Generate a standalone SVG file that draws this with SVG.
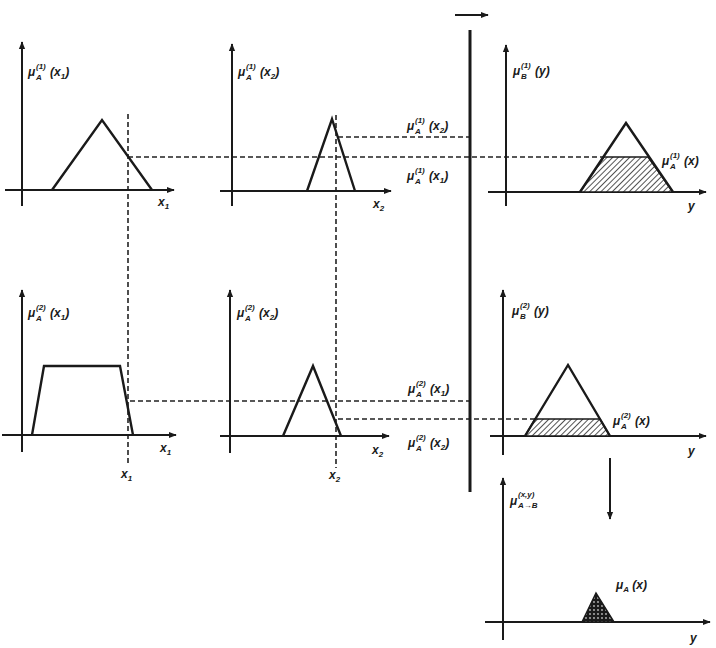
<svg xmlns="http://www.w3.org/2000/svg" width="716" height="648" viewBox="0 0 716 648">
<style>
.ax{stroke:#1a1a1a;stroke-width:2;fill:none}
.mf{stroke:#1a1a1a;stroke-width:2.4;fill:none;stroke-linejoin:miter}
.dash{stroke:#222;stroke-width:1.6;stroke-dasharray:5 3;fill:none}
.lb{font-family:"Liberation Sans",Arial,sans-serif;font-style:italic;font-weight:bold;font-size:12px;fill:#1a1a1a}
.s{font-size:8px}
</style>
<defs>
<marker id="ah" viewBox="0 0 10 10" refX="9" refY="5" markerWidth="8" markerHeight="8" orient="auto" markerUnits="userSpaceOnUse">
<path d="M0,1 L10,5 L0,9 Z" fill="#1a1a1a"/>
</marker>
<pattern id="hatch" width="4" height="4" patternUnits="userSpaceOnUse" patternTransform="rotate(45)">
<rect width="4" height="4" fill="#fff"/>
<line x1="0" y1="0" x2="0" y2="4" stroke="#1a1a1a" stroke-width="1.5"/>
</pattern>
<pattern id="dots" width="4" height="4" patternUnits="userSpaceOnUse">
<rect width="4" height="4" fill="#1a1a1a"/>
<circle cx="2" cy="2" r="0.9" fill="#bbb"/>
</pattern>
</defs>

<g id="connectors">
<line class="dash" x1="128" y1="114" x2="128" y2="466"/>
<line class="dash" x1="336" y1="115" x2="336" y2="468"/>
<line class="dash" x1="128" y1="157" x2="604" y2="157"/>
<line class="dash" x1="338" y1="137" x2="470" y2="137"/>
<line class="dash" x1="130" y1="401" x2="470" y2="401"/>
<line class="dash" x1="338" y1="419" x2="535" y2="419"/>
<line x1="470" y1="30" x2="470" y2="492" stroke="#1a1a1a" stroke-width="3"/>
<line class="ax" x1="455" y1="15" x2="488" y2="15" marker-end="url(#ah)"/>
<line class="ax" x1="610" y1="458" x2="610" y2="519" marker-end="url(#ah)"/>
</g>

<g id="panel-tl">
<line class="ax" x1="22" y1="206" x2="22" y2="42" marker-end="url(#ah)"/>
<line class="ax" x1="5" y1="190" x2="174" y2="190" marker-end="url(#ah)"/>
<polyline class="mf" points="52,190 102,120 152,190"/>
<text class="lb" x="28" y="76">μ<tspan class="s" x="36" y="69">(1)</tspan><tspan class="s" x="36" y="80">A</tspan><tspan x="50" y="76">(x</tspan><tspan class="s" y="79">1</tspan><tspan y="76">)</tspan></text>
<text class="lb" x="158" y="206">x<tspan class="s" y="209">1</tspan></text>
</g>

<g id="panel-tm">
<line class="ax" x1="232" y1="206" x2="232" y2="44" marker-end="url(#ah)"/>
<line class="ax" x1="220" y1="191" x2="391" y2="191" marker-end="url(#ah)"/>
<polyline class="mf" points="307,191 332,119 355,191"/>
<text class="lb" x="238" y="76">μ<tspan class="s" x="246" y="69">(1)</tspan><tspan class="s" x="246" y="80">A</tspan><tspan x="260" y="76">(x</tspan><tspan class="s" y="79">2</tspan><tspan y="76">)</tspan></text>
<text class="lb" x="373" y="208">x<tspan class="s" y="211">2</tspan></text>
<text class="lb" x="407" y="130">μ<tspan class="s" x="415" y="123">(1)</tspan><tspan class="s" x="415" y="134">A</tspan><tspan x="429" y="130">(x</tspan><tspan class="s" y="133">2</tspan><tspan y="130">)</tspan></text>
<text class="lb" x="407" y="180">μ<tspan class="s" x="415" y="173">(1)</tspan><tspan class="s" x="415" y="184">A</tspan><tspan x="429" y="180">(x</tspan><tspan class="s" y="183">1</tspan><tspan y="180">)</tspan></text>
</g>

<g id="panel-tr">
<line class="ax" x1="506" y1="206" x2="506" y2="45" marker-end="url(#ah)"/>
<line class="ax" x1="488" y1="192" x2="706" y2="192" marker-end="url(#ah)"/>
<polygon points="580,192 604,157 648,157 673,192" fill="url(#hatch)" stroke="#1a1a1a" stroke-width="1.5"/>
<polyline class="mf" points="580,192 626,123 673,192"/>
<text class="lb" x="513" y="75">μ<tspan class="s" x="521" y="68">(1)</tspan><tspan class="s" x="521" y="79">B</tspan><tspan x="535" y="75">(y)</tspan></text>
<text class="lb" x="662" y="165">μ<tspan class="s" x="670" y="158">(1)</tspan><tspan class="s" x="670" y="169">A</tspan><tspan x="684" y="165">(x)</tspan></text>
<text class="lb" x="688" y="210">y</text>
</g>

<g id="panel-bl">
<line class="ax" x1="22" y1="452" x2="22" y2="290" marker-end="url(#ah)"/>
<line class="ax" x1="2" y1="435" x2="176" y2="435" marker-end="url(#ah)"/>
<polyline class="mf" points="32,435 44,366 120,366 133,435"/>
<text class="lb" x="28" y="317">μ<tspan class="s" x="36" y="310">(2)</tspan><tspan class="s" x="36" y="321">A</tspan><tspan x="50" y="317">(x</tspan><tspan class="s" y="320">1</tspan><tspan y="317">)</tspan></text>
<text class="lb" x="160" y="452">x<tspan class="s" y="455">1</tspan></text>
<text class="lb" x="121" y="478">x<tspan class="s" y="481">1</tspan></text>
</g>

<g id="panel-bm">
<line class="ax" x1="230" y1="453" x2="230" y2="290" marker-end="url(#ah)"/>
<line class="ax" x1="220" y1="436" x2="389" y2="436" marker-end="url(#ah)"/>
<polyline class="mf" points="283,436 313,366 341,436"/>
<text class="lb" x="237" y="317">μ<tspan class="s" x="245" y="310">(2)</tspan><tspan class="s" x="245" y="321">A</tspan><tspan x="259" y="317">(x</tspan><tspan class="s" y="320">2</tspan><tspan y="317">)</tspan></text>
<text class="lb" x="372" y="454">x<tspan class="s" y="457">2</tspan></text>
<text class="lb" x="329" y="479">x<tspan class="s" y="482">2</tspan></text>
<text class="lb" x="408" y="393">μ<tspan class="s" x="416" y="386">(2)</tspan><tspan class="s" x="416" y="397">A</tspan><tspan x="430" y="393">(x</tspan><tspan class="s" y="396">1</tspan><tspan y="393">)</tspan></text>
<text class="lb" x="408" y="447">μ<tspan class="s" x="416" y="440">(2)</tspan><tspan class="s" x="416" y="451">A</tspan><tspan x="430" y="447">(x</tspan><tspan class="s" y="450">2</tspan><tspan y="447">)</tspan></text>
</g>

<g id="panel-br">
<line class="ax" x1="503" y1="455" x2="503" y2="290" marker-end="url(#ah)"/>
<line class="ax" x1="490" y1="436" x2="706" y2="436" marker-end="url(#ah)"/>
<polygon points="525,436 535,419 600,419 610,436" fill="url(#hatch)" stroke="#1a1a1a" stroke-width="1.5"/>
<polyline class="mf" points="525,436 568,365 610,436"/>
<text class="lb" x="512" y="315">μ<tspan class="s" x="520" y="308">(2)</tspan><tspan class="s" x="520" y="319">B</tspan><tspan x="534" y="315">(y)</tspan></text>
<text class="lb" x="613" y="425">μ<tspan class="s" x="621" y="418">(2)</tspan><tspan class="s" x="621" y="429">A</tspan><tspan x="635" y="425">(x)</tspan></text>
<text class="lb" x="688" y="455">y</text>
</g>

<g id="panel-result">
<line class="ax" x1="503" y1="640" x2="503" y2="478" marker-end="url(#ah)"/>
<line class="ax" x1="485" y1="622" x2="710" y2="622" marker-end="url(#ah)"/>
<polygon points="582,622 596,593 614,622" fill="url(#dots)" stroke="#1a1a1a" stroke-width="1.5"/>
<text class="lb" x="510" y="505">μ<tspan class="s" x="518" y="497">(x,y)</tspan><tspan class="s" x="518" y="508">A→B</tspan></text>
<text class="lb" x="616" y="589">μ<tspan class="s" y="592">A</tspan><tspan y="589"> (x)</tspan></text>
<text class="lb" x="690" y="642">y</text>
</g>
</svg>
